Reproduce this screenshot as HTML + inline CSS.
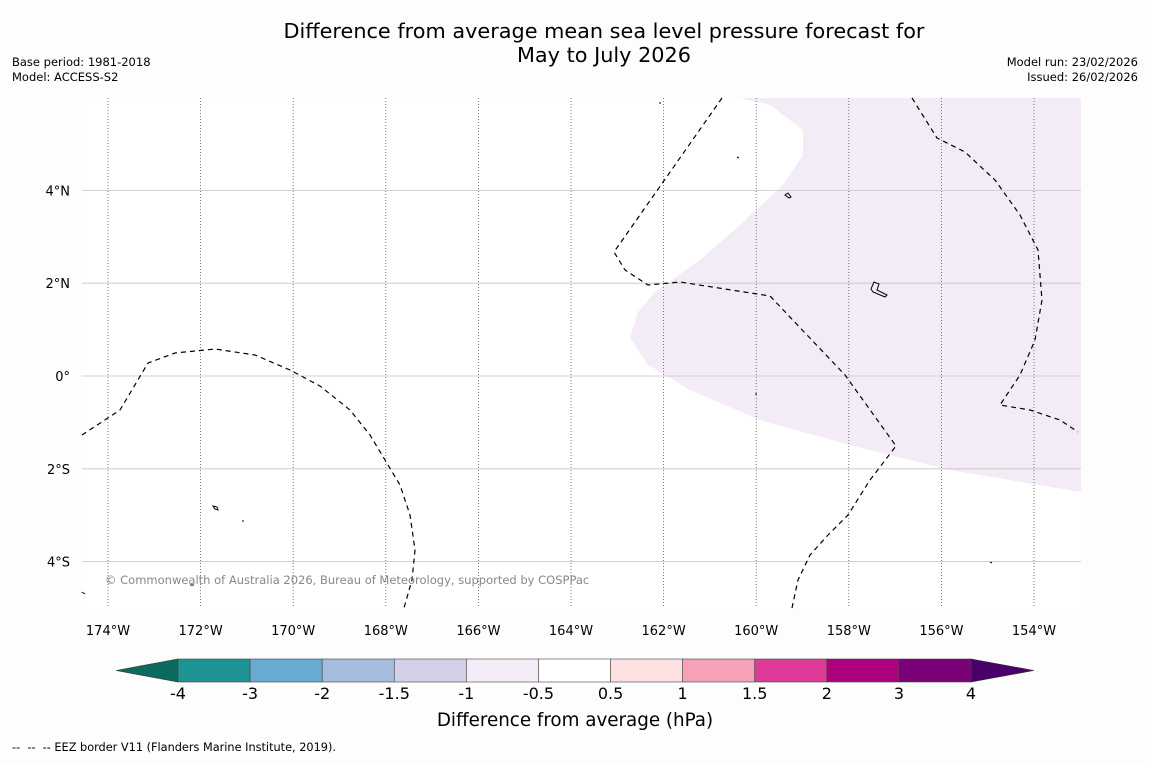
<!DOCTYPE html>
<html><head><meta charset="utf-8"><style>
body{margin:0;background:#fdfdfd;font-family:"Liberation Sans","DejaVu Sans",sans-serif;}
svg text{font-family:"DejaVu Sans","Liberation Sans",sans-serif;}
</style></head><body>
<svg id="c" width="1150" height="758" xmlns="http://www.w3.org/2000/svg">
<rect width="1150" height="758" fill="#fdfdfd"/>
<text x="604" y="38" font-size="20.8" text-anchor="middle">Difference from average mean sea level pressure forecast for</text>
<text x="604" y="62" font-size="20.8" text-anchor="middle">May to July 2026</text>
<text x="12" y="66" font-size="11.5">Base period: 1981-2018</text>
<text x="12" y="81" font-size="11.5">Model: ACCESS-S2</text>
<text x="1138" y="66" font-size="11.5" text-anchor="end">Model run: 23/02/2026</text>
<text x="1138" y="81" font-size="11.5" text-anchor="end">Issued: 26/02/2026</text>
<g id="map">
<rect x="82" y="98" width="999" height="510" fill="#ffffff"/>
<path fill="#f3ecf6" d="M740,98 L770,105 L803,130 L803,155 L783,185 L740,225 L700,260 L655,292 L638,312 L630,338 L648,365 L690,390 L760,420 L850,445 L950,470 L1081,492 L1081,98 Z"/>
<g id="grid"></g>
<g fill="none" stroke="#000" stroke-width="1.2" stroke-dasharray="5,4">
<path d="M82,435 L120,410 L148,363 L175,353 L215,349 L255,355 L290,370 L320,386 L350,410 L370,435 L385,460 L400,485 L410,515 L415,550 L412,580 L404,608"/>
<path d="M722,98 L614,252 L625,270 L648,285 L680,282 L770,296 L845,375 L896,446 L870,480 L848,515 L828,535 L810,555 L798,580 L792,608"/>
<path d="M912,98 L937,138 L965,152 L995,180 L1020,215 L1038,250 L1042,300 L1035,340 L1020,375 L1000,405 L1030,410 L1060,420 L1078,432"/>
</g>
<g fill="none" stroke="#000" stroke-width="1">
<path d="M785,195 l3,-2 l3,4 l-2,1 z"/>
<path d="M871,289 l3,-7 l5,2 l-2,6 l10,5 l-2,2 l-12,-5 z"/>
<path d="M213,506 l4,1 l1,3 l-3,-1 z"/>
<path d="M190,585 l4,0"/><path d="M659,103 l2,0"/><path d="M737,157 l2,1"/><path d="M243,520 l0,2"/><path d="M755,394 l2,0"/><path d="M990,562 l2,1"/><path d="M82,592 l3,2"/>
</g>
</g>
<text x="105" y="584" font-size="11.5" fill="#888">© Commonwealth of Australia 2026, Bureau of Meteorology, supported by COSPPac</text>
<g id="ticks"></g>
<g id="cbar"></g>
<text x="575" y="726" font-size="18.3" text-anchor="middle">Difference from average (hPa)</text>
<text x="12" y="751" font-size="11.3" style="white-space:pre" xml:space="preserve">--  --  -- EEZ border V11 (Flanders Marine Institute, 2019).</text>
</svg>
<script>
const lonTicks=[-174,-172,-170,-168,-166,-164,-162,-160,-158,-156,-154];
const latTicks=[4,2,0,-2,-4];
const latLabels=["4°N","2°N","0°","2°S","4°S"];
const cbBounds=[-4,-3,-2,-1.5,-1,-0.5,0.5,1,1.5,2,3,4];
const cbLabels=["-4","-3","-2","-1.5","-1","-0.5","0.5","1","1.5","2","3","4"];
const cbColors=["#1e9494","#68aad2","#a6bcdc","#d1d0e6","#f4ecf6","#ffffff","#fde0e0","#f7a1b9","#dd3b97","#ad017e","#7a0177"];
const NS="http://www.w3.org/2000/svg";
function X(lon){return 108+(lon+174)*46.3;}
function Y(lat){return 376-lat*46.4;}
function mk(t,a,p){const e=document.createElementNS(NS,t);for(const k in a)e.setAttribute(k,a[k]);p.appendChild(e);return e;}
const g=document.getElementById('grid'),tk=document.getElementById('ticks'),cb=document.getElementById('cbar');
latTicks.forEach((v,i)=>{
const l=mk('line',{x1:82,x2:1081,y1:Y(v),y2:Y(v),stroke:'#c4c4c4','stroke-width':0.8},g);


const t=mk('text',{x:70,y:Y(v)+5,'font-size':13,'text-anchor':'end'},tk);t.textContent=latLabels[i];


});
lonTicks.forEach(v=>{
const l=mk('line',{x1:X(v),x2:X(v),y1:98,y2:608,stroke:'#555','stroke-width':0.8,'stroke-dasharray':'1,2'},g);


const t=mk('text',{x:X(v),y:635,'font-size':13,'text-anchor':'middle'},tk);t.textContent=Math.abs(v)+"°W";


});
const n=cbColors.length,x0=178,x1=971,w=(x1-x0)/n,y0=659,h=23;
mk('polygon',{points:`${x0},${y0} ${x0},${y0+h} 116,${y0+h/2}`,fill:'#0b6b5e',stroke:'#333','stroke-width':0.6},cb);
mk('polygon',{points:`${x1},${y0} ${x1},${y0+h} 1034,${y0+h/2}`,fill:'#49006a',stroke:'#333','stroke-width':0.6},cb);
cbColors.forEach((c,i)=>{
const r=mk('rect',{x:x0+i*w,y:y0,width:w,height:h,fill:c,stroke:'#444','stroke-width':0.6},cb);


});
cbLabels.forEach((s,i)=>{
const t=mk('text',{x:x0+i*w,y:699,'font-size':16,'text-anchor':'middle'},cb);t.textContent=s;


});
</script>
</body></html>
